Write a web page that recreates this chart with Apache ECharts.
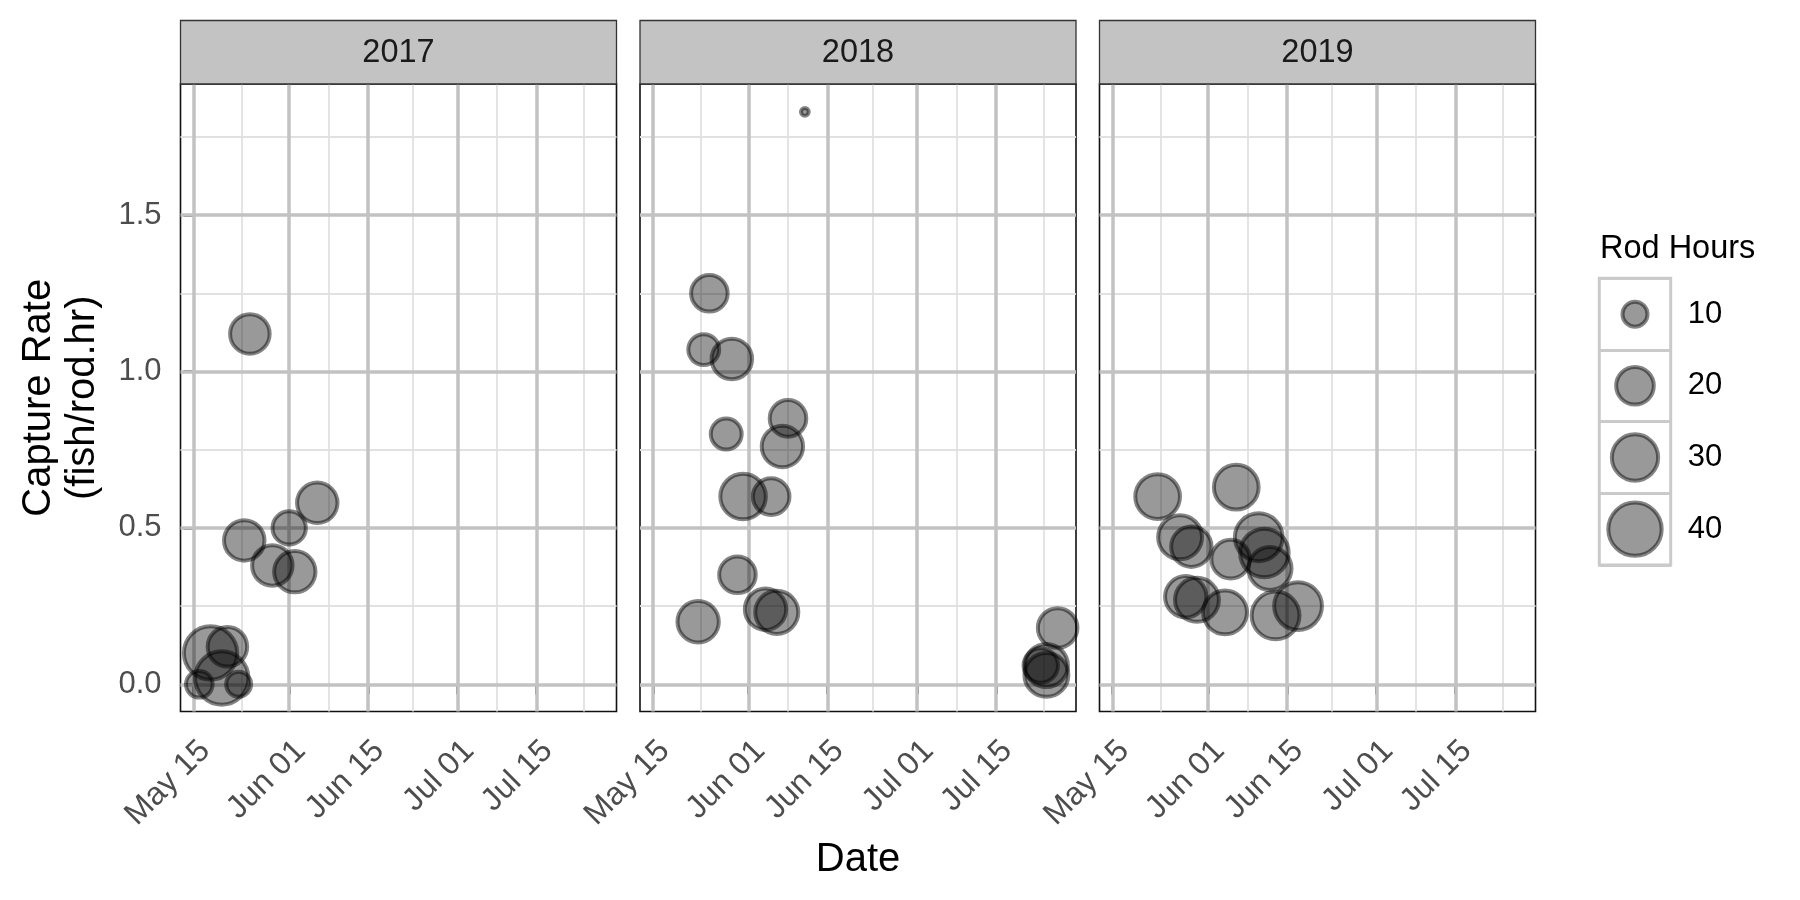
<!DOCTYPE html>
<html>
<head>
<meta charset="utf-8">
<script src="https://cdn.jsdelivr.net/npm/echarts@6/dist/echarts.min.js"></script>
<style>html,body{margin:0;padding:0;background:#fff}#c{width:1800px;height:900px}</style>
</head>
<body>
<div id="c"></div>
<script>
// ---------------- data ----------------
const years = ['2017', '2018', '2019'];

const dates2017 = ['05-25','06-06','06-01','05-24','05-29','06-02','05-18','05-21','05-20','05-16','05-23'];
const rates2017 = [1.12, 0.58, 0.50, 0.46, 0.38, 0.36, 0.10, 0.12, 0.02, 0.00, 0.00];
const rodHours2017 = [22, 23, 16, 23, 23, 24, 40, 22, 40, 11, 10];

const dates2018 = ['06-11','05-25','05-24','05-29','06-08','05-28','06-07','05-31','06-05','05-30','06-04','06-06','05-23','07-26','07-23','07-24','07-24'];
const rates2018 = [1.83, 1.25, 1.07, 1.04, 0.85, 0.80, 0.76, 0.60, 0.60, 0.35, 0.24, 0.23, 0.20, 0.18, 0.06, 0.06, 0.03];
const rodHours2018 = [5, 19, 14, 23, 19, 14, 24, 29, 19, 19, 24, 26, 24, 22, 17, 26, 27];

const dates2019 = ['05-23','06-06','05-27','05-29','06-10','06-11','06-12','06-05','05-28','05-30','06-04','06-13','06-17'];
const rates2019 = [0.60, 0.63, 0.47, 0.44, 0.47, 0.42, 0.37, 0.40, 0.28, 0.27, 0.23, 0.22, 0.25];
const rodHours2019 = [28, 28, 27, 23, 32, 33, 26, 21, 24, 27, 27, 32, 32];

// axis breaks (major date breaks incl. one beyond range for minor lines)
const xBreakDates = ['05-15','06-01','06-15','07-01','07-15','08-01'];
const xTickLabels = ['May 15','Jun 01','Jun 15','Jul 01','Jul 15','Aug 01'];
const yBreaks = [0, 0.5, 1.0, 1.5, 2.0];
const legendValues = [10, 20, 30, 40];

// ---------------- helpers ----------------
function dayOf(md) {
  const p = md.split('-').map(Number);
  return (Date.UTC(2000, p[0] - 1, p[1]) - Date.UTC(2000, 4, 15)) / 86400000;
}
const xBreakDays = xBreakDates.map(dayOf);
const xMinor = xBreakDays.slice(1).map((d, i) => (d + xBreakDays[i]) / 2);
const yMinor = yBreaks.slice(1).map((v, i) => (v + yBreaks[i]) / 2);

const X_MIN = -2.35, X_MAX = 75.27;
const Y_MIN = -0.087, Y_MAX = 1.919;

const BW = 4;
function sizeOf(h) { return 11.8 + 7.7 * Math.sqrt(Math.max(h - 5, 0)) - BW; }

const FONT = '"Liberation Sans", Arial, Helvetica, sans-serif';
const panelLeft = [180.5, 640, 1099.5];
const PW = 436, PT = 84, PH = 627.5;
const STRIP_TOP = 20.5;

const datasets = [
  [dates2017, rates2017, rodHours2017],
  [dates2018, rates2018, rodHours2018],
  [dates2019, rates2019, rodHours2019]
];

const MAJOR = { color: '#c2c2c2', width: 3.5, type: 'solid' };
const MINOR = { color: '#e1e1e1', width: 1.8, type: 'solid' };
const PT_STYLE = { color: 'rgba(0,0,0,0.5)', borderColor: 'rgba(0,0,0,0.6)', borderWidth: BW };

const grids = [], xAxes = [], yAxes = [], series = [], graphics = [];

years.forEach((yr, i) => {
  grids.push({ left: panelLeft[i], top: PT, width: PW, height: PH, show: true,
               borderColor: '#111', borderWidth: 1.6, backgroundColor: '#fff' });
  const tickDays = xBreakDays.filter(d => d >= X_MIN && d <= X_MAX);
  xAxes.push({
    type: 'value', gridIndex: i, min: X_MIN, max: X_MAX,
    axisLine: { show: false },
    splitLine: { show: false },
    axisTick: { show: true, customValues: tickDays, length: 10, lineStyle: { color: '#222', width: 2.5 } },
    axisLabel: {
      customValues: tickDays,
      formatter: v => { const k = xBreakDays.findIndex(d => Math.abs(d - v) < 1e-6); return k >= 0 ? xTickLabels[k] : ''; },
      rotate: 45, align: 'right', verticalAlign: 'top', margin: 23,
      fontSize: 32, color: '#4d4d4d', fontFamily: FONT
    },
    name: i === 1 ? 'Date' : '',
    nameLocation: 'middle', nameGap: 128, nameMoveOverlap: false,
    nameTextStyle: { fontSize: 40, color: '#000', fontFamily: FONT }
  });
  yAxes.push({
    type: 'value', gridIndex: i, min: Y_MIN, max: Y_MAX,
    axisLine: { show: false },
    splitLine: { show: false },
    axisTick: { show: i === 0, customValues: yBreaks.slice(0, 4), length: 10, lineStyle: { color: '#222', width: 2.5 } },
    axisLabel: {
      show: i === 0, customValues: yBreaks.slice(0, 4),
      formatter: v => v.toFixed(1), margin: 19,
      fontSize: 31, color: '#4d4d4d', fontFamily: FONT
    },
    name: i === 0 ? 'Capture Rate\n(fish/rod.hr)' : '',
    nameLocation: 'middle', nameRotate: 90, nameGap: 76, nameMoveOverlap: false,
    nameTextStyle: { fontSize: 40, lineHeight: 44, color: '#000', fontFamily: FONT, align: 'center' }
  });

  const lines = [];
  yMinor.forEach(v => { if (v > Y_MIN && v < Y_MAX) lines.push({ yAxis: v, lineStyle: MINOR }); });
  xMinor.forEach(v => { if (v > X_MIN && v < X_MAX) lines.push({ xAxis: v, lineStyle: MINOR }); });
  yBreaks.forEach(v => { if (v > Y_MIN && v < Y_MAX) lines.push({ yAxis: v, lineStyle: MAJOR }); });
  xBreakDays.forEach(v => { if (v > X_MIN && v < X_MAX) lines.push({ xAxis: v, lineStyle: MAJOR }); });
  series.push({
    type: 'scatter', xAxisIndex: i, yAxisIndex: i, data: [], silent: true, z: 1,
    markLine: { z: 1, silent: true, animation: false, symbol: ['none', 'none'],
                label: { show: false }, emphasis: { disabled: true }, data: lines }
  });

  const [ds, rs, hs] = datasets[i];
  series.push({
    type: 'scatter', xAxisIndex: i, yAxisIndex: i, z: 3, clip: true,
    data: ds.map((d, k) => [dayOf(d), rs[k], hs[k]]),
    symbol: 'circle',
    symbolSize: v => sizeOf(v[2]),
    itemStyle: PT_STYLE,
    emphasis: { disabled: true }
  });

  // facet strip
  graphics.push({
    type: 'rect', silent: true, z: 10,
    shape: { x: panelLeft[i], y: STRIP_TOP, width: PW, height: PT - STRIP_TOP },
    style: { fill: '#c3c3c3', stroke: '#333', lineWidth: 1.3 }
  });
  graphics.push({
    type: 'text', silent: true, z: 11,
    x: panelLeft[i] + PW / 2, y: (STRIP_TOP + PT) / 2 + 1,
    style: { text: yr, fontSize: 32.5, fontFamily: FONT, fill: '#1a1a1a', align: 'center', verticalAlign: 'middle' }
  });
});

// legend drawn as a small grid with the same size mapping
const LG = 3;
grids.push({ left: 1599.3, top: 278.3, width: 71.4, height: 286.7, show: true,
             borderColor: '#cacaca', borderWidth: 3, backgroundColor: '#fff' });
xAxes.push({ type: 'value', gridIndex: LG, min: 0, max: 1, show: false });
yAxes.push({
  type: 'category', gridIndex: LG, data: legendValues.map(String), inverse: true, position: 'right',
  axisLine: { show: false }, axisTick: { show: false },
  splitLine: { show: true, lineStyle: { color: '#cacaca', width: 3 } },
  axisLabel: { margin: 17, fontSize: 31, color: '#000', fontFamily: FONT }
});
series.push({
  type: 'scatter', xAxisIndex: LG, yAxisIndex: LG, z: 3,
  data: legendValues.map(v => [0.5, String(v), v]),
  symbol: 'circle',
  symbolSize: v => sizeOf(v[2]),
  itemStyle: PT_STYLE,
  emphasis: { disabled: true }
});
graphics.push({
  type: 'text', silent: true, x: 1600, y: 249,
  style: { text: 'Rod Hours', fontSize: 32.5, fontFamily: FONT, fill: '#000', align: 'left', verticalAlign: 'middle' }
});

const chart = echarts.init(document.getElementById('c'), null, { renderer: 'canvas' });
chart.setOption({
  animation: false,
  backgroundColor: '#fff',
  textStyle: { fontFamily: FONT },
  grid: grids, xAxis: xAxes, yAxis: yAxes, series: series,
  graphic: { elements: graphics }
});
</script>
</body>
</html>
